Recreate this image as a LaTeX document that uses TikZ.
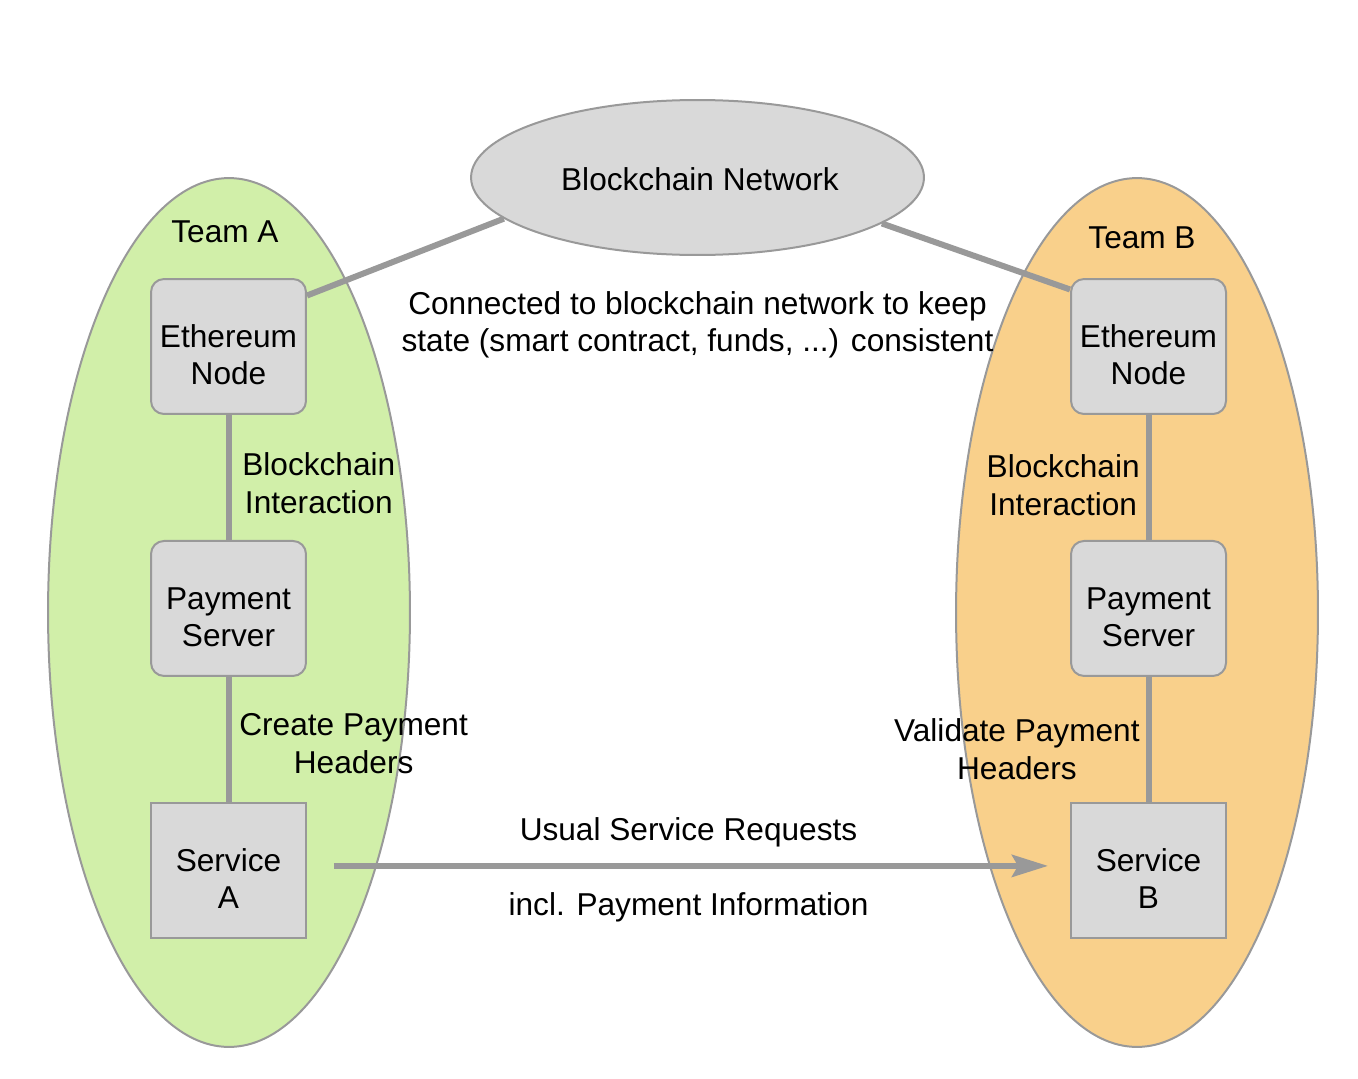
\documentclass[tikz,border=0pt]{standalone}
\usepackage{fontspec}
\setmainfont{Liberation Sans}
\usetikzlibrary{shapes.geometric, arrows.meta, positioning}
\definecolor{boxgray}{HTML}{D9D9D9}
\definecolor{edgegray}{HTML}{999999}
\definecolor{teamgreen}{HTML}{D1EFA9}
\definecolor{teamorange}{HTML}{F9D08B}

\begin{document}
\begin{tikzpicture}[x=0.02cm, y=-0.02cm,
  node distance=2.5cm,
  every node/.style={font=\fontsize{18}{21.5}\selectfont},
  team/.style={ellipse, draw=edgegray, line width=0.04cm,
               minimum width=7.24cm, minimum height=17.38cm},
  box/.style={rectangle, draw=edgegray, fill=boxgray, line width=0.04cm,
              rounded corners=0.26cm, minimum width=3.1cm,
              minimum height=2.7cm, align=center, inner sep=0pt,
              execute at begin node={\rule{0pt}{1.54cm}}},
  service/.style={box, sharp corners},
  note/.style={align=center},
  link/.style={draw=edgegray, line width=0.12cm},
  flow/.style={link, -{Stealth[length=0.72cm, width=0.44cm, inset=0.12cm]}}
]
\useasboundingbox (0,0) rectangle (1358,1078);

% the two teams and the shared network
\node[team, fill=teamgreen] (teamA) at (229,612.5) {};
\node[team, fill=teamorange] (teamB) at (1137,612.5) {};
\node[ellipse, draw=edgegray, fill=boxgray, line width=0.04cm,
      minimum width=9.06cm, minimum height=3.1cm] (bc) at (697.5,177.5) {};
\node at ([yshift=-0.04cm, xshift=0.05cm]bc.center) (bcname) {Blockchain Network};

% team A
\node[box] (ethA) at (228.5,346.5) {Ethereum\\Node};
\node[box, below=of ethA] (payA) {Payment\\Server};
\node[service, below=of payA] (srvA) {Service\\A};
\node[above=0.58cm of ethA, xshift=-0.07cm] (nameA) {Team A};

% team B
\node[box] (ethB) at (1148.5,346.5) {Ethereum\\Node};
\node[box, below=of ethB] (payB) {Payment\\Server};
\node[service, below=of payB] (srvB) {Service\\B};
\node[above=0.46cm of ethB, xshift=-0.13cm] (nameB) {Team B};

\node[note, below=0.58cm of bc] (sync) {Connected to blockchain network to keep\\state (smart contract, funds, ...) consistent};

\draw[link] (ethA.33.6) -- (bc.192);
\draw[link] (bc.346.6) -- (ethB.144.9);

\draw[link] (ethA) -- node[note, right, xshift=0.1cm, yshift=-0.12cm]{Blockchain\\Interaction} (payA);
\draw[link] (payA) -- node[note, right, xshift=0.04cm, yshift=-0.09cm]{Create Payment\\Headers} (srvA);
\draw[link] (ethB) -- node[note, left, yshift=-0.16cm]{Blockchain\\Interaction} (payB);
\draw[link] (payB) -- node[note, left, yshift=-0.2cm]{Validate Payment\\Headers} (srvB);

\draw[flow, shorten <=0.54cm, shorten >=0.44cm]
  ([yshift=0.09cm]srvA.east) --
  node[above=0.2cm]{Usual Service Requests}
  node[below=0.36cm]{incl. Payment Information} ([yshift=0.09cm]srvB.west);

\end{tikzpicture}
\end{document}
